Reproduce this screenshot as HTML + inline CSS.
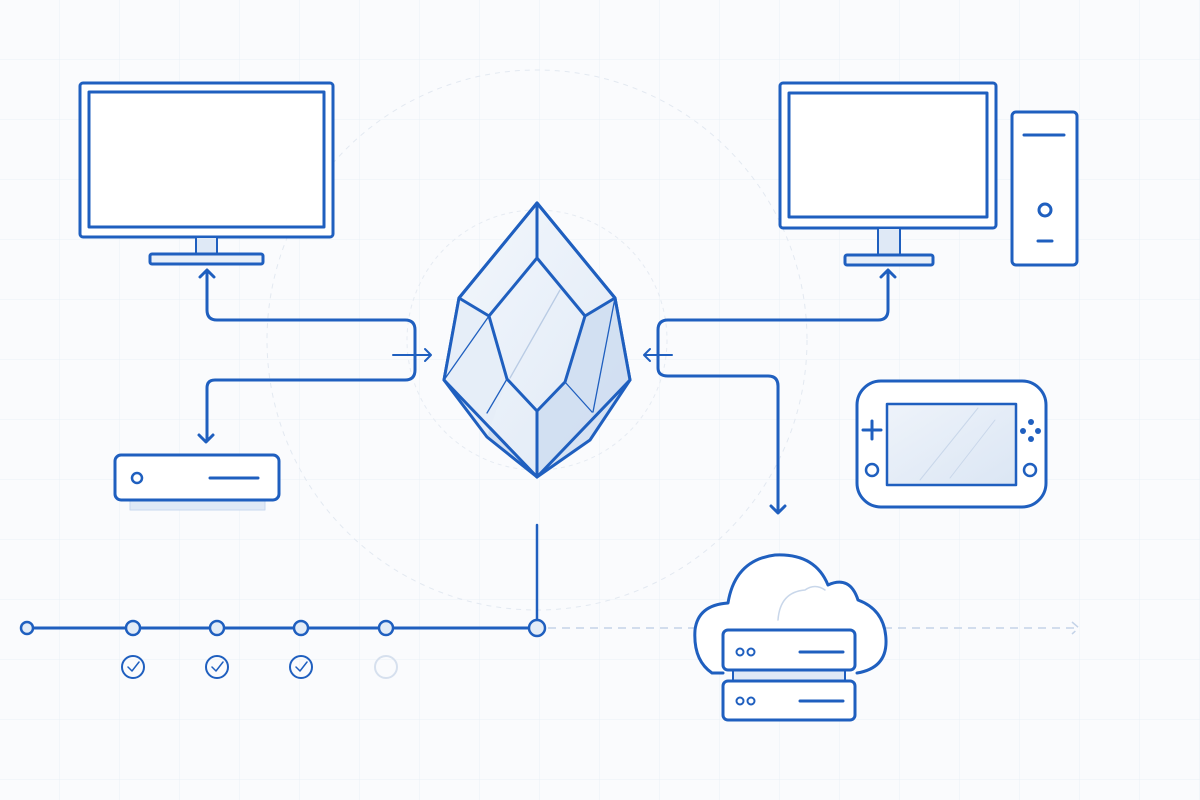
<!DOCTYPE html>
<html><head><meta charset="utf-8"><style>html,body{margin:0;padding:0;background:#fafbfd}svg{display:block}</style></head>
<body>
<svg width="1200" height="800" viewBox="0 0 1200 800" xmlns="http://www.w3.org/2000/svg">
<defs>
<pattern id="g" width="60" height="60" patternUnits="userSpaceOnUse"><path d="M60 0V60M0 60H60" stroke="#eaf0f7" stroke-width="1" fill="none"/></pattern>
<linearGradient id="c1" x1="0" y1="0" x2="1" y2="1"><stop offset="0" stop-color="#f3f7fc"/><stop offset="1" stop-color="#dfe9f6"/></linearGradient>
<linearGradient id="sc" x1="0" y1="0" x2="1" y2="1"><stop offset="0" stop-color="#eef3fa"/><stop offset="1" stop-color="#dbe6f4"/></linearGradient>
</defs>
<rect width="1200" height="800" fill="#fafbfd"/>
<rect width="1200" height="800" fill="url(#g)"/>
<circle cx="537" cy="340" r="270" fill="none" stroke="#e3e9f1" stroke-dasharray="5 5"/>
<circle cx="537" cy="340" r="130" fill="none" stroke="#e6ebf2" stroke-dasharray="4 4"/>
<path d="M548 628H1078M1072 622L1079 628L1072 634" stroke="#c4d3e8" stroke-width="1.5" stroke-dasharray="8 6" fill="none"/>
<g stroke="#1f5fbf" stroke-width="3" fill="none" stroke-linecap="round" stroke-linejoin="round">
<rect x="80" y="83" width="253" height="154" rx="3" fill="#fff"/>
<rect x="89" y="92" width="235" height="135" fill="#fff"/>
<rect x="196" y="237" width="21" height="17" fill="#dfe9f6" stroke-width="2"/>
<rect x="150" y="254" width="113" height="10" rx="2" fill="#e8eff8"/>
<rect x="780" y="83" width="216" height="145" rx="3" fill="#fff"/>
<rect x="789" y="93" width="198" height="124" fill="#fff"/>
<rect x="878" y="228" width="22" height="27" fill="#dfe9f6" stroke-width="2"/>
<rect x="845" y="255" width="88" height="10" rx="2" fill="#e8eff8"/>
<rect x="1012" y="112" width="65" height="153" rx="4" fill="#fff"/>
<line x1="1024" y1="135" x2="1064" y2="135"/>
<circle cx="1045" cy="210" r="6"/>
<line x1="1038" y1="241" x2="1052" y2="241"/>
<path d="M207 272V310Q207 320 217 320H405Q415 320 415 330V370Q415 380 405 380H215Q207 380 207 388V440"/>
<path d="M200 277L207 270L214 277"/>
<path d="M199 435L206 442L213 435"/>
<path d="M393 355H431M425 349L431 355L425 361" stroke-width="2"/>
<path d="M888 272V310Q888 320 878 320H668Q658 320 658 330V368Q658 376 668 376H768Q778 376 778 386V512"/>
<path d="M881 277L888 270L895 277"/>
<path d="M771 506L778 513L785 506"/>
<path d="M672 355H644M650 349L644 355L650 361" stroke-width="2"/>
<rect x="130" y="498" width="135" height="12" fill="#dfe9f6" stroke="#c8d8ee" stroke-width="1"/>
<rect x="115" y="455" width="164" height="45" rx="6" fill="#fff"/>
<circle cx="137" cy="478" r="5" stroke-width="2.5"/>
<line x1="210" y1="478" x2="258" y2="478"/>
<rect x="857" y="381" width="189" height="126" rx="24" fill="#fff"/>
<rect x="887" y="404" width="129" height="81" fill="url(#sc)" stroke-width="2.5"/>
<path d="M920 480L978 408M950 478L995 420" stroke="#c9d7ea" stroke-width="1"/>
<path d="M872 421V439M863 430H881"/>
<circle cx="872" cy="470" r="6" stroke-width="2.5"/>
<circle cx="1030" cy="470" r="6" stroke-width="2.5"/>
<g fill="#1f5fbf" stroke="none"><circle cx="1031" cy="422" r="3"/><circle cx="1031" cy="439" r="3"/><circle cx="1023" cy="431" r="3"/><circle cx="1038" cy="431" r="3"/></g>
<path d="M723 673H712Q693 660 695 630Q698 605 728 603Q735 560 775 555Q815 553 828 585Q850 575 858 600Q885 610 886 640Q887 668 857 673" fill="#fff"/>
<path d="M778 620Q780 592 805 590Q815 583 825 590" stroke="#c9d7ea" stroke-width="1.5"/>
<rect x="733" y="668" width="112" height="14" fill="#dfe9f6" stroke-width="2"/>
<rect x="723" y="630" width="132" height="40" rx="5" fill="#fff"/>
<rect x="723" y="681" width="132" height="39" rx="5" fill="#fff"/>
<circle cx="740" cy="652" r="3.5" stroke-width="2"/><circle cx="751" cy="652" r="3.5" stroke-width="2"/>
<circle cx="740" cy="701" r="3.5" stroke-width="2"/><circle cx="751" cy="701" r="3.5" stroke-width="2"/>
<line x1="800" y1="652" x2="843" y2="652"/><line x1="800" y1="701" x2="843" y2="701"/>
<line x1="537" y1="525" x2="537" y2="628" stroke-width="2.5"/>
<line x1="27" y1="628" x2="537" y2="628"/>
<g fill="#e3ecf7" stroke-width="2.5">
<circle cx="27" cy="628" r="6"/><circle cx="133" cy="628" r="7"/><circle cx="217" cy="628" r="7"/><circle cx="301" cy="628" r="7"/><circle cx="386" cy="628" r="7"/><circle cx="537" cy="628" r="8"/>
</g>
<g stroke-width="2"><circle cx="133" cy="667" r="11"/><circle cx="217" cy="667" r="11"/><circle cx="301" cy="667" r="11"/>
<path d="M128 667L132 671L139 662M212 667L216 671L223 662M296 667L300 671L307 662" stroke-width="1.5"/></g>
<circle cx="386" cy="667" r="11" stroke="#d6e0ee" stroke-width="2"/>
<g stroke-width="3">
<polygon points="537,203 615,298 630,380 537,477 444,380 459,298" fill="url(#c1)"/>
<polygon points="444,380 487,437 537,477" fill="#d3e1f2" stroke="none"/>
<polygon points="630,380 590,440 537,477 537,411 565,382 585,316 615,298" fill="#cddcf0" stroke="none" opacity=".8"/>
<polygon points="444,380 459,298 489,316 507,379 487,437" fill="#e6eef8" stroke="none"/>
<polygon points="444,380 537,477 630,380 615,298 537,203 459,298" />
<path d="M537 203V258M489 316L537 258L585 316M459 298L489 316L507 379L537 411L565 382L585 316L615 298M537 411V477M444 380L487 437L537 477M630 380L590 440L537 477"/>
</g>
<g stroke-width="1.3"><path d="M444 380L489 316M507 379L487 413M565 382L592 412M615 298L593 412"/><path d="M510 378L560 290" stroke="#b9cbe4"/></g>
</g>
</svg>
</body></html>
